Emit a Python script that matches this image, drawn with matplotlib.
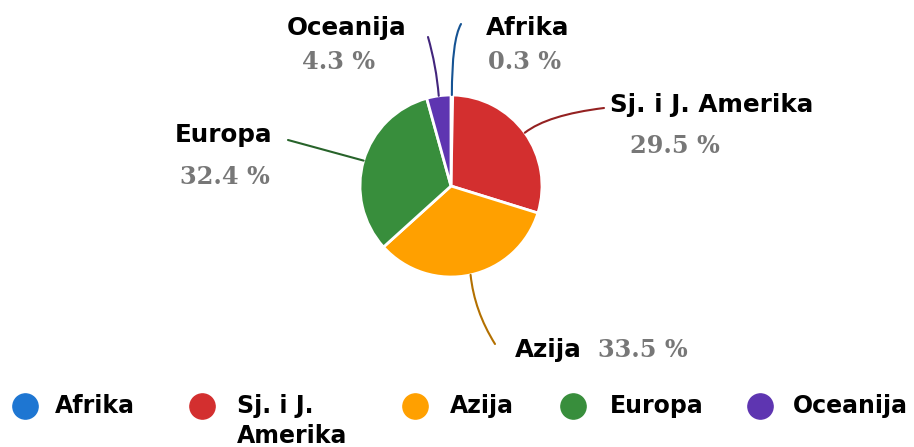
import numpy as np
import matplotlib.pyplot as plt
from matplotlib.colors import to_rgb

# data
regions = ["Afrika", "Sj. i J. Amerika", "Azija", "Europa", "Oceanija"]
legend_labels = ["Afrika", "Sj. i J.\nAmerika", "Azija", "Europa", "Oceanija"]
shares = [0.3, 29.5, 33.5, 32.4, 4.3]
colors = ["#1E76D2", "#D32F2F", "#FFA000", "#388E3C", "#5E35B1"]

W, H = 914, 447


def Y(y):
    # pixel row (top-down) -> data y
    return H - y


# label layout in pixels: name x/y, pct x/y, leader end x/y, connection style
label_pos = {
    "Afrika": (486, 28, 488, 62, 461, 24, "angle3,angleA=60,angleB=90"),
    "Sj. i J. Amerika": (610, 105, 630, 146, 604, 108, "angle3,angleA=7,angleB=38"),
    "Azija": (515, 350, 598, 350, 495, 344, "angle3,angleA=122,angleB=96"),
    "Europa": (175, 135, 180, 177, 288, 140, "arc3,rad=0"),
    "Oceanija": (287, 28, 302, 62, 428, 37, "arc3,rad=-0.05"),
}

fig = plt.figure(figsize=(W / 100, H / 100), dpi=100)
ax = fig.add_axes([0, 0, 1, 1])

cx, cy, r = 451, 186, 91
wedges, _ = ax.pie(shares, colors=colors, startangle=90, counterclock=False,
                   center=(cx, Y(cy)), radius=r,
                   wedgeprops=dict(edgecolor="white", linewidth=2))
ax.set_xlim(0, W)
ax.set_ylim(0, H)
ax.axis("off")

name_font = dict(family="DejaVu Sans", weight="bold", size=17.7, color="black")
pct_font = dict(family="DejaVu Serif", weight="bold", size=17.3, color="#777777")
leg_font = dict(family="DejaVu Sans", weight="bold", size=17, color="black")

for w, name, val, col in zip(wedges, regions, shares, colors):
    nx, ny, px, py, ex, ey, cs = label_pos[name]
    ang = np.deg2rad((w.theta1 + w.theta2) / 2)
    sx = cx + r * np.cos(ang)
    sy = Y(cy) + r * np.sin(ang)
    dark = tuple(c * 0.7 for c in to_rgb(col))
    ax.annotate("", xy=(sx, sy), xytext=(ex, Y(ey)),
                arrowprops=dict(arrowstyle="-", color=dark, lw=1.5,
                                shrinkA=0, shrinkB=0, connectionstyle=cs))
    ax.text(nx, Y(ny), name, ha="left", va="center", **name_font)
    ax.text(px, Y(py), f"{val} %", ha="left", va="center", **pct_font)

# legend row
leg_dot_x = [25, 202, 415, 573, 760]
leg_txt_x = [55, 237, 450, 610, 793]
for x, tx, lab, col in zip(leg_dot_x, leg_txt_x, legend_labels, colors):
    ax.scatter([x], [Y(406)], s=330, color=col, zorder=3)
    ax.text(tx, Y(394), lab, ha="left", va="top", linespacing=1.3,
            **leg_font)

fig.savefig("out.png", dpi=100)
